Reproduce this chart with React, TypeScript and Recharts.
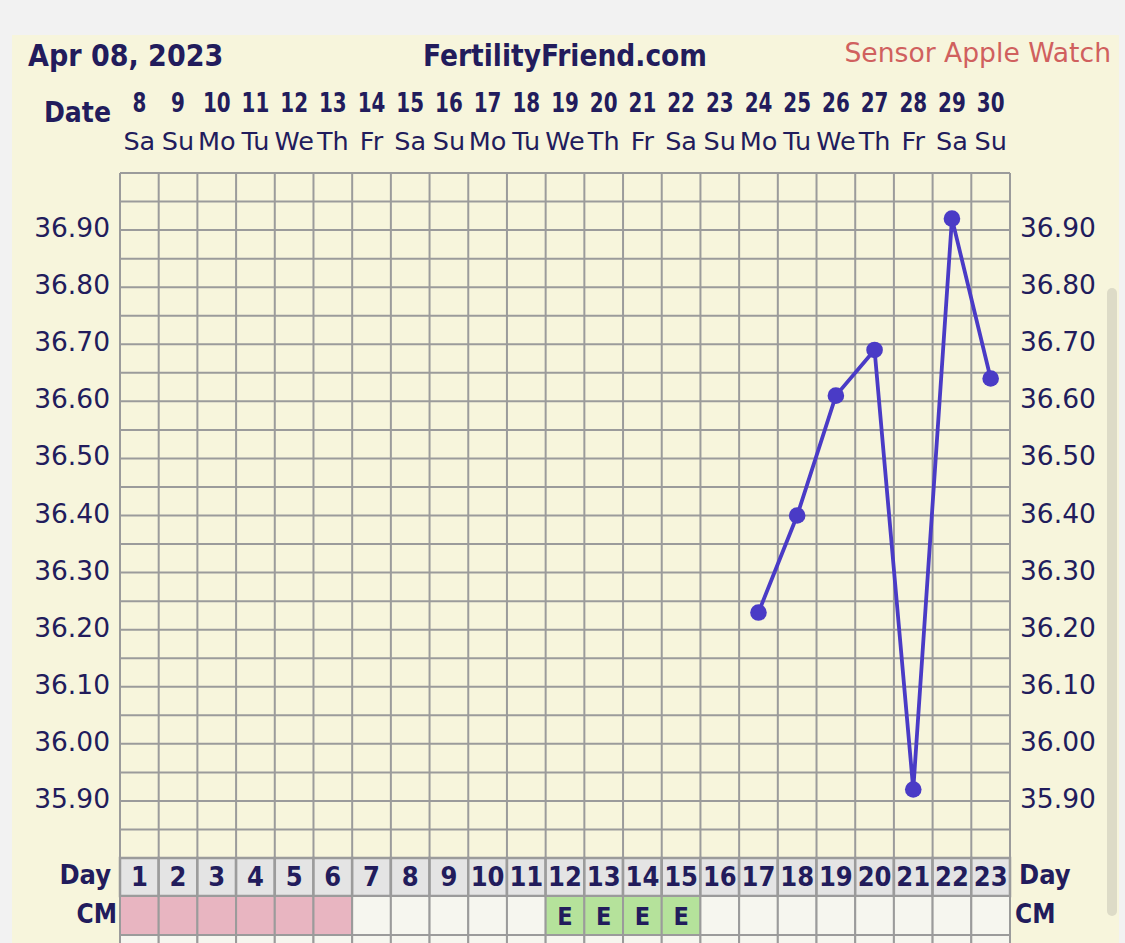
import React from "react";
import { ComposedChart, Line, XAxis, YAxis, CartesianGrid } from "recharts";

const cycleDays = [1, 2, 3, 4, 5, 6, 7, 8, 9, 10, 11, 12, 13, 14, 15, 16, 17, 18, 19, 20, 21, 22, 23];
const dates = [8, 9, 10, 11, 12, 13, 14, 15, 16, 17, 18, 19, 20, 21, 22, 23, 24, 25, 26, 27, 28, 29, 30];
const weekdays = ["Sa", "Su", "Mo", "Tu", "We", "Th", "Fr", "Sa", "Su", "Mo", "Tu", "We", "Th", "Fr", "Sa", "Su", "Mo", "Tu", "We", "Th", "Fr", "Sa", "Su"];
const temps: (number | null)[] = [null, null, null, null, null, null, null, null, null, null, null, null, null, null, null, null, 36.23, 36.4, 36.61, 36.69, 35.92, 36.92, 36.64];
// P = period, E = eggwhite, "" = none
const cervicalMucus = ["P", "P", "P", "P", "P", "P", "", "", "", "", "", "E", "E", "E", "E", "", "", "", "", "", "", "", ""];
const tempTicks = [35.9, 36.0, 36.1, 36.2, 36.3, 36.4, 36.5, 36.6, 36.7, 36.8, 36.9];
const gridTempTicks = [35.8, 35.85, 35.9, 35.95, 36.0, 36.05, 36.1, 36.15, 36.2, 36.25, 36.3, 36.35, 36.4, 36.45, 36.5, 36.55, 36.6, 36.65, 36.7, 36.75, 36.8, 36.85, 36.9, 36.95, 37.0];
const gridDayTicks = [0.5, 1.5, 2.5, 3.5, 4.5, 5.5, 6.5, 7.5, 8.5, 9.5, 10.5, 11.5, 12.5, 13.5, 14.5, 15.5, 16.5, 17.5, 18.5, 19.5, 20.5, 21.5, 22.5, 23.5];

const data = cycleDays.map((d, i) => ({ day: d, temp: temps[i] }));

const W = 1125;
const H = 943;
const LEFT_W = 120;
const RIGHT_W = 115;
const TOP_H = 173;
const BOTTOM_H = 85;
const COL_W = (W - LEFT_W - RIGHT_W) / cycleDays.length;

const FONT_C = "'DejaVu Sans Condensed', 'DejaVu Sans', sans-serif";
const FONT = "'DejaVu Sans', Verdana, sans-serif";
const NAVY = "#221c5c";
const GRID = "#9b9b9b";
const LINE = "#4a3bc6";

const DateTick = (props: any) => {
  const { x, y, payload } = props;
  const i = payload.value - 1;
  return (
    <g>
      <text
        transform={`translate(${x} ${y - 61}) scale(0.82 1)`}
        textAnchor="middle"
        fontFamily={FONT_C}
        fontStretch="condensed"
        fontWeight="bold"
        fontSize={27}
        fill={NAVY}
      >
        {dates[i]}
      </text>
      <text x={x} y={y - 23} textAnchor="middle" fontFamily={FONT} fontSize={25.5} fill={NAVY}>
        {weekdays[i]}
      </text>
    </g>
  );
};

const CellTick = (props: any) => {
  const { x, y, payload } = props;
  const i = payload.value - 1;
  const cm = cervicalMucus[i];
  const fill = cm === "P" ? "#e8b5c1" : cm === "E" ? "#b5e29b" : "#f6f6ef";
  const left = x - COL_W / 2;
  return (
    <g>
      <rect x={left} y={y} width={COL_W} height={38} fill="#e4e4e4" stroke={GRID} strokeWidth={2.5} />
      <text x={x} y={y + 27.5} textAnchor="middle" fontFamily={FONT_C} fontStretch="condensed" fontWeight="bold" fontSize={27} fill={NAVY}>
        {payload.value}
      </text>
      <rect x={left} y={y + 38} width={COL_W} height={39} fill={fill} stroke={GRID} strokeWidth={2} />
      {cm === "E" ? (
        <text x={x} y={y + 66.5} textAnchor="middle" fontFamily={FONT_C} fontStretch="condensed" fontWeight="bold" fontSize={25} fill={NAVY}>
          E
        </text>
      ) : null}
      <rect x={left} y={y + 77} width={COL_W} height={40} fill="#f6f6ef" stroke={GRID} strokeWidth={2} />
    </g>
  );
};

const TempTick = (props: any) => {
  const { x, y, payload, textAnchor } = props;
  return (
    <text x={x} y={y + 7} textAnchor={textAnchor} fontFamily={FONT} fontSize={26.5} fill={NAVY}>
      {Number(payload.value).toFixed(2)}
    </text>
  );
};

export default function App() {
  return (
    <div style={{ position: "absolute", left: 0, top: 0, width: W, height: H, background: "#f2f2f2", overflow: "hidden" }}>
      <div style={{ position: "absolute", left: 12, top: 35, width: 1107, height: 920, background: "#f7f5dc" }} />
      <div style={{ position: "absolute", left: 0, top: 0 }}>
        <ComposedChart width={W} height={H} data={data} margin={{ top: 0, right: 0, bottom: 0, left: 0 }}>
          <XAxis xAxisId="grid" dataKey="day" type="number" domain={[0.5, 23.5]} ticks={gridDayTicks} hide height={0} allowDataOverflow />
          <YAxis yAxisId="grid" type="number" domain={[35.8, 37.0]} ticks={gridTempTicks} hide width={0} allowDataOverflow />
          <XAxis
            xAxisId="top"
            orientation="top"
            dataKey="day"
            type="number"
            domain={[0.5, 23.5]}
            ticks={cycleDays}
            interval={0}
            height={TOP_H}
            axisLine={false}
            tickLine={false}
            tickSize={0}
            tickMargin={0}
            tick={<DateTick />}
            allowDataOverflow
          />
          <XAxis
            xAxisId="bottom"
            orientation="bottom"
            dataKey="day"
            type="number"
            domain={[0.5, 23.5]}
            ticks={cycleDays}
            interval={0}
            height={BOTTOM_H}
            axisLine={false}
            tickLine={false}
            tickSize={0}
            tickMargin={0}
            tick={<CellTick />}
            allowDataOverflow
          />
          <YAxis
            yAxisId="left"
            orientation="left"
            type="number"
            domain={[35.8, 37.0]}
            ticks={tempTicks}
            interval={0}
            width={LEFT_W}
            axisLine={false}
            tickLine={false}
            tickSize={0}
            tickMargin={10}
            tick={<TempTick />}
            allowDataOverflow
          />
          <YAxis
            yAxisId="right"
            orientation="right"
            type="number"
            domain={[35.8, 37.0]}
            ticks={tempTicks}
            interval={0}
            width={RIGHT_W}
            axisLine={false}
            tickLine={false}
            tickSize={0}
            tickMargin={10}
            tick={<TempTick />}
            allowDataOverflow
          />
          <CartesianGrid xAxisId="grid" yAxisId="grid" stroke={GRID} strokeWidth={2} />
          <Line
            xAxisId="grid"
            yAxisId="left"
            dataKey="temp"
            stroke={LINE}
            strokeWidth={3.8}
            dot={{ r: 8.3, fill: LINE, stroke: LINE, strokeWidth: 0 }}
            activeDot={false}
            connectNulls={false}
            isAnimationActive={false}
          />
        </ComposedChart>
      </div>
      <svg width={W} height={H} style={{ position: "absolute", left: 0, top: 0, pointerEvents: "none" }}>
        <text x={28} y={66} fontFamily={FONT_C} fontStretch="condensed" fontWeight="bold" fontSize={30} fill={NAVY}>
          Apr 08, 2023
        </text>
        <text x={565} y={66} textAnchor="middle" fontFamily={FONT_C} fontStretch="condensed" fontWeight="bold" fontSize={29.5} fill={NAVY}>
          FertilityFriend.com
        </text>
        <text x={1111} y={62} textAnchor="end" fontFamily={FONT} fontSize={26.6} fill="#d0605e">
          Sensor Apple Watch
        </text>
        <text x={111} y={122} textAnchor="end" fontFamily={FONT_C} fontStretch="condensed" fontWeight="bold" fontSize={28} fill={NAVY}>
          Date
        </text>
        <text x={111} y={884} textAnchor="end" fontFamily={FONT_C} fontStretch="condensed" fontWeight="bold" fontSize={27} fill={NAVY}>
          Day
        </text>
        <text x={117} y={923} textAnchor="end" fontFamily={FONT_C} fontStretch="condensed" fontWeight="bold" fontSize={26} fill={NAVY}>
          CM
        </text>
        <text x={1019} y={884} fontFamily={FONT_C} fontStretch="condensed" fontWeight="bold" fontSize={27} fill={NAVY}>
          Day
        </text>
        <text x={1015} y={923} fontFamily={FONT_C} fontStretch="condensed" fontWeight="bold" fontSize={26} fill={NAVY}>
          CM
        </text>
      </svg>
      <div style={{ position: "absolute", left: 1107, top: 288, width: 10, height: 628, borderRadius: 5, background: "#dddbc7" }} />
    </div>
  );
}
